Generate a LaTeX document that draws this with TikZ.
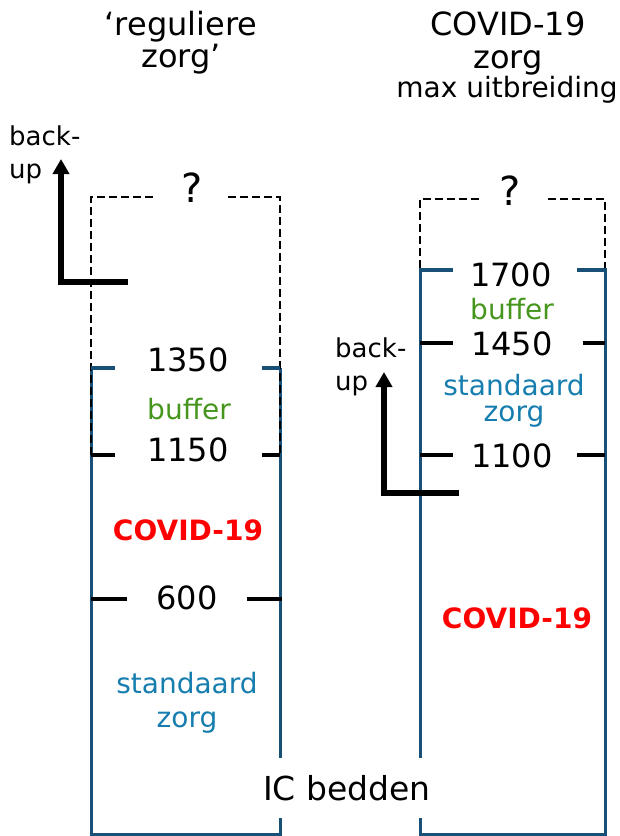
\documentclass[tikz,border=0pt]{standalone}
\usepackage{fontspec}
\setmainfont{DejaVu Sans}
\usetikzlibrary{arrows.meta}
\definecolor{boxblue}{RGB}{24,80,120}
\definecolor{zorgblue}{RGB}{22,125,175}
\definecolor{buffergreen}{RGB}{70,150,30}
\tikzset{
  boxline/.style={line width=3pt,draw=boxblue},
  dashline/.style={line width=2.5pt,dash pattern=on 8pt off 4pt},
  levelmark/.style={line width=3.5pt},
  backup/.style={line width=6pt,-{Triangle[width=16pt,length=15pt]}},
  lbl/.style={anchor=base,inner sep=0pt},
  num/.style={lbl,font=\fontsize{32}{38}\selectfont},
  txt/.style={lbl,font=\fontsize{28}{34}\selectfont},
  covid/.style={lbl,text=red,font=\fontsize{28}{34}\selectfont\bfseries},
  ttl/.style={lbl,font=\fontsize{32}{38}\selectfont},
}
\begin{document}
\begin{tikzpicture}[x=1pt,y=-1pt]
\useasboundingbox(0,0) rectangle (620,836);
\pgfmathsetmacro{\la}{91}
\pgfmathsetmacro{\lb}{280}
\pgfmathsetmacro{\ra}{420}
\pgfmathsetmacro{\rb}{605}
% titels
\node[ttl](titleLa) at (181,35){‘reguliere};
\node[ttl](titleLb) at (181,67){zorg’};
\node[ttl](titleRa) at (508,35){COVID-19};
\node[ttl](titleRb) at (508,68){zorg};
\node[lbl,font=\fontsize{28}{34}\selectfont](titleRc) at (507,97){max uitbreiding};
% reguliere zorg
\draw[boxline](\la,368)--(\la,834)--(\lb,834)--(\lb,368);
\draw[dashline](\la,455)--(\la,197)--(153,197);
\draw[dashline](228,197)--(\lb,197)--(\lb,455);
\node[lbl,font=\fontsize{40}{48}\selectfont](qL) at (192,202){?};
\draw[levelmark,boxblue](\la,368)--++(24,0);
\draw[levelmark,boxblue](\lb,368)--++(-18,0);
\draw[levelmark](\la,455)--++(24,0);
\draw[levelmark](\lb,455)--++(-18,0);
\draw[levelmark](\la,599)--++(36,0);
\draw[levelmark](\lb+2,599)--++(-35,0);
\node[num](nL1350) at (188,371){1350};
\node[txt,text=buffergreen](bufL) at (189,419){buffer};
\node[num](nL1150) at (188,461){1150};
\node[covid](covL) at (188,540){COVID-19};
\node[num](nL600) at (187,609){600};
\node[txt,text=zorgblue](stdLa) at (187,693){standaard};
\node[txt,text=zorgblue](stdLb) at (187,727){zorg};
\draw[backup](128,282)--(61,282)--(61,159);
\node[lbl,anchor=base west,font=\fontsize{26}{33}\selectfont](bkLa) at (9,145){back-};
\node[lbl,anchor=base west,font=\fontsize{26}{33}\selectfont](bkLb) at (9,178){up};
% COVID-19 zorg
\draw[boxline](\ra,268)--(\ra,834)--(\rb,834)--(\rb,268);
\draw[dashline](\ra,268)--(\ra,199)--(480,199);
\draw[dashline](548,199)--(\rb,199)--(\rb,268);
\node[lbl,font=\fontsize{40}{48}\selectfont](qR) at (510,205){?};
\draw[levelmark,boxblue](\ra,270)--++(33,0);
\draw[levelmark,boxblue](\rb,270)--++(-28,0);
\foreach \y/\w in {343/22,455/28}{
  \draw[levelmark](\ra,\y)--++(33,0);
  \draw[levelmark](\rb,\y)--++(-\w,0);
}
\node[num](nR1700) at (511,286){1700};
\node[txt,text=buffergreen](bufR) at (512,319){buffer};
\node[num](nR1450) at (512,355){1450};
\node[txt,text=zorgblue](stdRa) at (514,395){standaard};
\node[txt,text=zorgblue](stdRb) at (514,421){zorg};
\node[num](nR1100) at (512,467){1100};
\node[covid](covR) at (517,628){COVID-19};
\draw[backup](459,493)--(384,493)--(384,372);
\node[lbl,anchor=base west,font=\fontsize{26}{33}\selectfont](bkRa) at (335,357){back-};
\node[lbl,anchor=base west,font=\fontsize{26}{33}\selectfont](bkRb) at (335,390){up};
% as
\node[fill=white,inner xsep=2pt,minimum height=60pt,font=\fontsize{33}{40}\selectfont](ic) at (347,788){IC bedden};
\end{tikzpicture}
\end{document}
